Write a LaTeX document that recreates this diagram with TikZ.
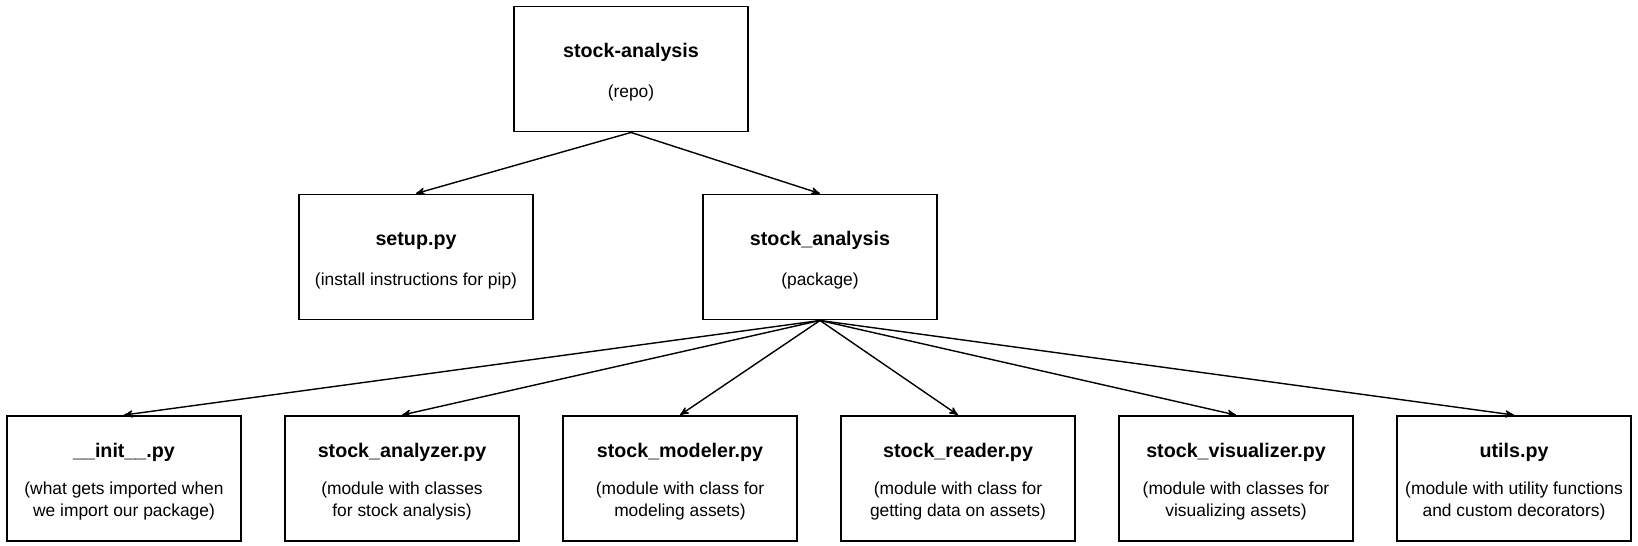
\documentclass[tikz,border=0pt]{standalone}
\usepackage{fontspec}
\setmainfont{Liberation Sans}
\usetikzlibrary{arrows}
\tikzset{
  modbox/.style = {rectangle, draw=black, line width=1.1pt, align=center,
    inner sep=0pt, minimum width=4.68cm, minimum height=2.5cm,
    font=\fontsize{9.9}{13}\selectfont},
  link/.style = {->, >=stealth', line width=0.8pt}% parent -> child
}
\newcommand{\modname}[2][9.5pt]{%
  {\rule{0pt}{12pt}\fontsize{11.2}{13}\selectfont\bfseries #2}\\[#1]}

\begin{document}
\begin{tikzpicture}
\useasboundingbox (0,0) rectangle (32.76,-10.9);
% repo and package
\node [modbox] (repo) at (12.62,-1.38) {\modname{stock-analysis}(repo)};
\node [modbox] (setup) at (8.32,-5.14) {\modname{setup.py}(install instructions for pip)};
\node [modbox] (pkg) at (16.40,-5.14) {\modname{stock\_analysis}(package)};
% modules
\node [modbox] (init) at (2.48,-9.57)
  {\modname[7.8pt]{\_\_init\_\_.py}(what gets imported when\\we import our package)};
\node [modbox] (analyzer) at (8.04,-9.57)
  {\modname[7.8pt]{stock\_analyzer.py}(module with classes\\for stock analysis)};
\node [modbox] (modeler) at (13.60,-9.57)
  {\modname[7.8pt]{stock\_modeler.py}(module with class for\\modeling assets)};
\node [modbox] (reader) at (19.16,-9.57)
  {\modname[7.8pt]{stock\_reader.py}(module with class for\\getting data on assets)};
\node [modbox] (visualizer) at (24.72,-9.57)
  {\modname[7.8pt]{stock\_visualizer.py}(module with classes for\\visualizing assets)};
\node [modbox] (utils) at (30.28,-9.57)
  {\modname[7.8pt]{utils.py}(module with utility functions\\and custom decorators)};

\draw [link] (repo.south) -- (setup.north);
\draw [link] (repo.south) -- (pkg.north);
\draw [link] (pkg.south) -- (init.north);
\draw [link] (pkg.south) -- (analyzer.north);
\draw [link] (pkg.south) -- (modeler.north);
\draw [link] (pkg.south) -- (reader.north);
\draw [link] (pkg.south) -- (visualizer.north);
\draw [link] (pkg.south) -- (utils.north);
\end{tikzpicture}
\end{document}
